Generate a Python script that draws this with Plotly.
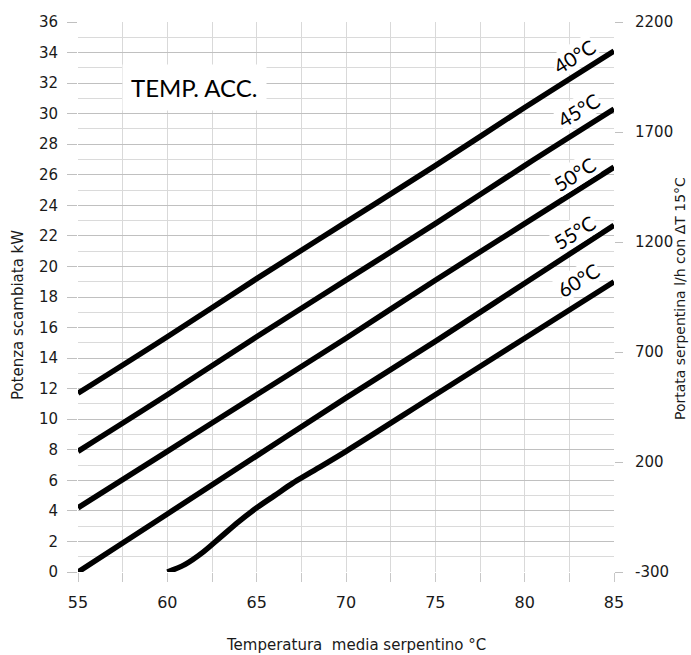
import plotly.graph_objects as go

# ---- data ----
temp_x = [55, 60, 65, 70, 75, 80, 85]
p_40 = [11.7, 15.4, 19.2, 22.9, 26.6, 30.4, 34.1]
p_45 = [7.9, 11.6, 15.4, 19.1, 22.8, 26.6, 30.3]
p_50 = [4.2, 7.9, 11.6, 15.3, 19.1, 22.8, 26.5]
p_55 = [0.0, 3.8, 7.6, 11.4, 15.1, 18.9, 22.7]
temp_x_60 = [60, 61, 62, 63, 64, 65, 66, 67, 68, 70, 75, 80, 85]
p_60 = [0.0, 0.5, 1.3, 2.3, 3.3, 4.2, 5.0, 5.8, 6.5, 7.9, 11.6, 15.3, 19.0]

series_names = ["40°C", "45°C", "50°C", "55°C", "60°C"]
label_x = [82.8, 83.0, 82.8, 82.8, 83.0]
label_y = [33.75, 30.25, 26.05, 22.25, 19.1]

x_range = [55, 85]
kw_range = [0, 36]
flow_range = [-300, 2200]
flow_ticks = [-300, 200, 700, 1200, 1700, 2200]

fig = go.Figure()
curves = [(temp_x, p_40), (temp_x, p_45), (temp_x, p_50), (temp_x, p_55), (temp_x_60, p_60)]
for name, (xs, ys) in zip(series_names, curves):
    fig.add_trace(go.Scatter(x=xs, y=ys, mode="lines", name=name,
                             line=dict(color="black", width=5.5, shape="spline", smoothing=1.0),
                             hoverinfo="skip", showlegend=False))

# invisible helper so the secondary axis is drawn
fig.add_trace(go.Scatter(x=x_range, y=flow_range, yaxis="y2", mode="lines",
                         line=dict(width=0, color="rgba(0,0,0,0)"), hoverinfo="skip",
                         showlegend=False))

tick_font = dict(family="DejaVu Sans", size=15, color="#1a1a1a")

fig.update_layout(
    width=691, height=655,
    margin=dict(l=78, r=77, t=22, b=83),
    paper_bgcolor="white", plot_bgcolor="white",
    xaxis=dict(range=x_range, dtick=5, tick0=55, showgrid=True, gridcolor="#d9d9d9",
               gridwidth=1, zeroline=False, showline=False,
               ticks="outside", ticklen=9, tickcolor="#c8c8c8",
               tickfont=dict(family="DejaVu Sans", size=16, color="#1a1a1a"),
               ticklabelstandoff=7,
               minor=dict(dtick=2.5, showgrid=True, gridcolor="#d9d9d9",
                          ticks="outside", ticklen=9, tickcolor="#c8c8c8")),
    yaxis=dict(range=kw_range, dtick=2, tick0=0, showgrid=True, gridcolor="#c0c0c0",
               gridwidth=1, zeroline=False, showline=False,
               ticks="outside", ticklen=10, tickcolor="#c0c0c0",
               tickfont=tick_font, ticklabelstandoff=6,
               minor=dict(dtick=1, showgrid=True, gridcolor="#dadada")),
    yaxis2=dict(range=flow_range, tickmode="array", tickvals=flow_ticks,
                ticktext=[str(v) for v in flow_ticks], overlaying="y", side="right",
                showgrid=False, zeroline=False, showline=False,
                ticks="outside", ticklen=8, tickcolor="#c0c0c0",
                tickfont=tick_font, ticklabelstandoff=9),
)

annotations = []
for name, lx, ly in zip(series_names, label_x, label_y):
    annotations.append(dict(x=lx, y=ly, xref="x", yref="y", text=name, showarrow=False,
                            textangle=-32, bgcolor="white", borderpad=0,
                            font=dict(family="Lato", size=20, color="black")))

annotations.append(dict(x=61.5, y=31.7, xref="x", yref="y", text="TEMP. ACC.",
                        showarrow=False, bgcolor="white", borderpad=8,
                        font=dict(family="Lato", size=24, color="black")))

annotations.append(dict(x=0.519, y=-0.133, xref="paper", yref="paper",
                        text="Temperatura  media serpentino °C", showarrow=False,
                        xanchor="center", yanchor="middle",
                        font=dict(family="DejaVu Sans", size=15, color="#1a1a1a")))
annotations.append(dict(x=-0.112, y=0.467, xref="paper", yref="paper",
                        text="Potenza scambiata kW", showarrow=False, textangle=-90,
                        xanchor="center", yanchor="middle",
                        font=dict(family="DejaVu Sans", size=15, color="#1a1a1a")))
annotations.append(dict(x=1.123, y=0.498, xref="paper", yref="paper",
                        text="Portata serpentina l/h con ΔT 15°C", showarrow=False,
                        textangle=-90, xanchor="center", yanchor="middle",
                        font=dict(family="DejaVu Sans", size=14, color="#1a1a1a")))
fig.update_layout(annotations=annotations)

fig.write_html("out.html", config={"displayModeBar": False},
               post_script="document.body.style.margin='0px';document.body.style.overflow='hidden';")
